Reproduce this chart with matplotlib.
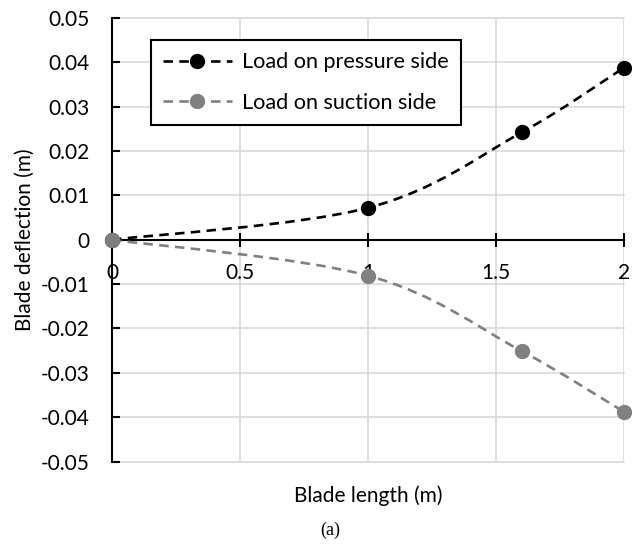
import numpy as np
import matplotlib.pyplot as plt
from matplotlib.path import Path
from matplotlib.patches import PathPatch
from matplotlib.lines import Line2D

plt.rcParams['font.family'] = ['Lato', 'DejaVu Sans']
plt.rcParams['font.size'] = 15

length = [0, 1, 1.6, 2]
pressure = [0, 0.0072, 0.0242, 0.0388]
suction = [0, -0.0081, -0.0251, -0.0388]
labels = ["Load on pressure side", "Load on suction side"]
colors = ["black", "#808080"]


def smooth_path(x, y):
    # Excel-like smoothed line: Catmull-Rom segments as cubic Beziers
    p = np.column_stack([x, y]).astype(float)
    ext = np.vstack([p[0], p, p[-1]])
    verts = [p[0]]
    codes = [Path.MOVETO]
    for i in range(len(p) - 1):
        p0, p1, p2, p3 = ext[i], ext[i + 1], ext[i + 2], ext[i + 3]
        c1 = p1 + (p2 - p0) / 6
        c2 = p2 - (p3 - p1) / 6
        verts += [c1, c2, p2]
        codes += [Path.CURVE4] * 3
    return Path(verts, codes)


fig = plt.figure(figsize=(6.32, 5.51), dpi=100)
ax = fig.add_axes([0.1772, 0.1624, 0.8101, 0.8049])

dash = (0, (3.6, 2.4))
handles = []
for ys, c, lab in zip([pressure, suction], colors, labels):
    patch = PathPatch(smooth_path(length, ys), facecolor='none', edgecolor=c,
                      lw=1.9, linestyle=dash, zorder=3)
    ax.add_patch(patch)
    ax.plot(length, ys, 'o', color=c, ms=10, zorder=4, clip_on=False)
    handles.append(Line2D([], [], color=c, lw=1.9, linestyle=dash,
                          marker='o', ms=10))

ax.set_xlim(0, 2)
ax.set_ylim(-0.05, 0.05)
ax.set_xticks([0, 0.5, 1, 1.5, 2])
ax.set_xticklabels(['0', '0.5', '1', '1.5', '2'])
ax.set_yticks(np.arange(-0.05, 0.051, 0.01))
ax.set_yticklabels(['-0.05', '-0.04', '-0.03', '-0.02', '-0.01', '0',
                    '0.01', '0.02', '0.03', '0.04', '0.05'])
ax.grid(True, color='#d9d9d9', lw=1.2, zorder=0)
for gl in ax.get_xgridlines() + ax.get_ygridlines():
    gl.set_clip_on(False)
ax.set_axisbelow(True)

ax.spines['top'].set_visible(False)
ax.spines['right'].set_visible(False)
ax.spines['bottom'].set_position(('data', 0))
ax.spines['bottom'].set_linewidth(1.5)
ax.spines['left'].set_linewidth(1.5)
ax.tick_params(axis='x', direction='inout', length=10, width=1.5, pad=12)
ax.tick_params(axis='y', direction='in', length=6, width=1.5, pad=16)

ax.set_ylabel("Blade deflection (m)", labelpad=4)
fig.text(0.583, 0.10, "Blade length (m)", ha='center', va='center')
fig.text(0.522, 0.038, "(a)", ha='center', va='center', fontsize=13,
         family='Liberation Serif')

leg = ax.legend(handles, labels, loc='upper left', fontsize=15.6,
                bbox_to_anchor=(0.076, 0.950), frameon=True, fancybox=False,
                edgecolor='black', handlelength=3.2, labelspacing=0.95,
                borderpad=0.55, handletextpad=0.45, borderaxespad=0)
leg.get_frame().set_linewidth(1.5)
leg.get_frame().set_alpha(1)

fig.savefig("out.png", dpi=100)
